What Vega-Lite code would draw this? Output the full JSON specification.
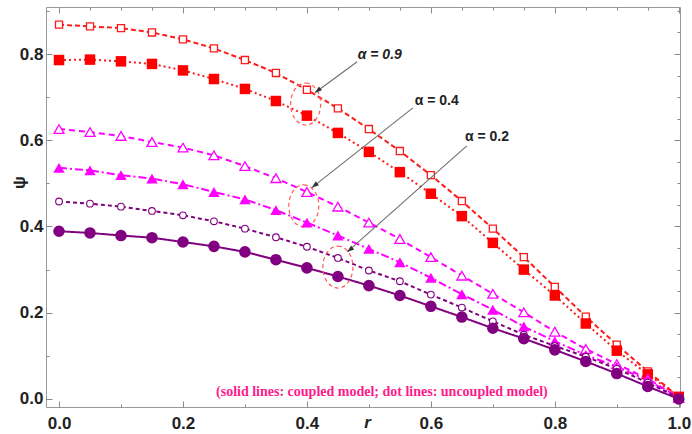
{
  "$schema": "https://vega.github.io/schema/vega-lite/v6.json",
  "width": 634,
  "height": 400,
  "autosize": "none",
  "padding": {"left": 46, "top": 7, "right": 12, "bottom": 27},
  "background": "white",
  "config": {"view": {"stroke": "#9a9a9a", "strokeWidth": 1}, "font": "Liberation Sans"},
  "datasets": {
    "curves": [
      {"r":0,"psi":0.868,"s":"a9u"},{"r":0.05,"psi":0.864,"s":"a9u"},{"r":0.1,"psi":0.860,"s":"a9u"},{"r":0.15,"psi":0.850,"s":"a9u"},{"r":0.2,"psi":0.834,"s":"a9u"},{"r":0.25,"psi":0.813,"s":"a9u"},{"r":0.3,"psi":0.786,"s":"a9u"},{"r":0.35,"psi":0.756,"s":"a9u"},{"r":0.4,"psi":0.717,"s":"a9u"},{"r":0.45,"psi":0.674,"s":"a9u"},{"r":0.5,"psi":0.626,"s":"a9u"},{"r":0.55,"psi":0.575,"s":"a9u"},{"r":0.6,"psi":0.519,"s":"a9u"},{"r":0.65,"psi":0.459,"s":"a9u"},{"r":0.7,"psi":0.395,"s":"a9u"},{"r":0.75,"psi":0.329,"s":"a9u"},{"r":0.8,"psi":0.260,"s":"a9u"},{"r":0.85,"psi":0.191,"s":"a9u"},{"r":0.9,"psi":0.126,"s":"a9u"},{"r":0.95,"psi":0.064,"s":"a9u"},{"r":1.0,"psi":0.005,"s":"a9u"},
      {"r":0,"psi":0.786,"s":"a9c"},{"r":0.05,"psi":0.787,"s":"a9c"},{"r":0.1,"psi":0.783,"s":"a9c"},{"r":0.15,"psi":0.777,"s":"a9c"},{"r":0.2,"psi":0.762,"s":"a9c"},{"r":0.25,"psi":0.742,"s":"a9c"},{"r":0.3,"psi":0.719,"s":"a9c"},{"r":0.35,"psi":0.691,"s":"a9c"},{"r":0.4,"psi":0.657,"s":"a9c"},{"r":0.45,"psi":0.617,"s":"a9c"},{"r":0.5,"psi":0.573,"s":"a9c"},{"r":0.55,"psi":0.526,"s":"a9c"},{"r":0.6,"psi":0.476,"s":"a9c"},{"r":0.65,"psi":0.424,"s":"a9c"},{"r":0.7,"psi":0.362,"s":"a9c"},{"r":0.75,"psi":0.300,"s":"a9c"},{"r":0.8,"psi":0.240,"s":"a9c"},{"r":0.85,"psi":0.175,"s":"a9c"},{"r":0.9,"psi":0.112,"s":"a9c"},{"r":0.95,"psi":0.057,"s":"a9c"},{"r":1.0,"psi":0.005,"s":"a9c"},
      {"r":0,"psi":0.626,"s":"a4u"},{"r":0.05,"psi":0.619,"s":"a4u"},{"r":0.1,"psi":0.610,"s":"a4u"},{"r":0.15,"psi":0.596,"s":"a4u"},{"r":0.2,"psi":0.583,"s":"a4u"},{"r":0.25,"psi":0.565,"s":"a4u"},{"r":0.3,"psi":0.540,"s":"a4u"},{"r":0.35,"psi":0.512,"s":"a4u"},{"r":0.4,"psi":0.480,"s":"a4u"},{"r":0.45,"psi":0.446,"s":"a4u"},{"r":0.5,"psi":0.409,"s":"a4u"},{"r":0.55,"psi":0.371,"s":"a4u"},{"r":0.6,"psi":0.329,"s":"a4u"},{"r":0.65,"psi":0.286,"s":"a4u"},{"r":0.7,"psi":0.244,"s":"a4u"},{"r":0.75,"psi":0.201,"s":"a4u"},{"r":0.8,"psi":0.156,"s":"a4u"},{"r":0.85,"psi":0.116,"s":"a4u"},{"r":0.9,"psi":0.081,"s":"a4u"},{"r":0.95,"psi":0.047,"s":"a4u"},{"r":1.0,"psi":0.003,"s":"a4u"},
      {"r":0,"psi":0.536,"s":"a4c"},{"r":0.05,"psi":0.530,"s":"a4c"},{"r":0.1,"psi":0.519,"s":"a4c"},{"r":0.15,"psi":0.511,"s":"a4c"},{"r":0.2,"psi":0.498,"s":"a4c"},{"r":0.25,"psi":0.480,"s":"a4c"},{"r":0.3,"psi":0.463,"s":"a4c"},{"r":0.35,"psi":0.438,"s":"a4c"},{"r":0.4,"psi":0.409,"s":"a4c"},{"r":0.45,"psi":0.379,"s":"a4c"},{"r":0.5,"psi":0.348,"s":"a4c"},{"r":0.55,"psi":0.317,"s":"a4c"},{"r":0.6,"psi":0.281,"s":"a4c"},{"r":0.65,"psi":0.243,"s":"a4c"},{"r":0.7,"psi":0.207,"s":"a4c"},{"r":0.75,"psi":0.168,"s":"a4c"},{"r":0.8,"psi":0.134,"s":"a4c"},{"r":0.85,"psi":0.102,"s":"a4c"},{"r":0.9,"psi":0.075,"s":"a4c"},{"r":0.95,"psi":0.043,"s":"a4c"},{"r":1.0,"psi":0.003,"s":"a4c"},
      {"r":0,"psi":0.458,"s":"a2u"},{"r":0.05,"psi":0.453,"s":"a2u"},{"r":0.1,"psi":0.446,"s":"a2u"},{"r":0.15,"psi":0.436,"s":"a2u"},{"r":0.2,"psi":0.426,"s":"a2u"},{"r":0.25,"psi":0.412,"s":"a2u"},{"r":0.3,"psi":0.395,"s":"a2u"},{"r":0.35,"psi":0.375,"s":"a2u"},{"r":0.4,"psi":0.353,"s":"a2u"},{"r":0.45,"psi":0.327,"s":"a2u"},{"r":0.5,"psi":0.298,"s":"a2u"},{"r":0.55,"psi":0.273,"s":"a2u"},{"r":0.6,"psi":0.242,"s":"a2u"},{"r":0.65,"psi":0.212,"s":"a2u"},{"r":0.7,"psi":0.180,"s":"a2u"},{"r":0.75,"psi":0.149,"s":"a2u"},{"r":0.8,"psi":0.123,"s":"a2u"},{"r":0.85,"psi":0.098,"s":"a2u"},{"r":0.9,"psi":0.070,"s":"a2u"},{"r":0.95,"psi":0.038,"s":"a2u"},{"r":1.0,"psi":0.002,"s":"a2u"},
      {"r":0,"psi":0.389,"s":"a2c"},{"r":0.05,"psi":0.385,"s":"a2c"},{"r":0.1,"psi":0.379,"s":"a2c"},{"r":0.15,"psi":0.374,"s":"a2c"},{"r":0.2,"psi":0.364,"s":"a2c"},{"r":0.25,"psi":0.354,"s":"a2c"},{"r":0.3,"psi":0.341,"s":"a2c"},{"r":0.35,"psi":0.323,"s":"a2c"},{"r":0.4,"psi":0.304,"s":"a2c"},{"r":0.45,"psi":0.284,"s":"a2c"},{"r":0.5,"psi":0.263,"s":"a2c"},{"r":0.55,"psi":0.240,"s":"a2c"},{"r":0.6,"psi":0.215,"s":"a2c"},{"r":0.65,"psi":0.190,"s":"a2c"},{"r":0.7,"psi":0.164,"s":"a2c"},{"r":0.75,"psi":0.140,"s":"a2c"},{"r":0.8,"psi":0.114,"s":"a2c"},{"r":0.85,"psi":0.087,"s":"a2c"},{"r":0.9,"psi":0.059,"s":"a2c"},{"r":0.95,"psi":0.029,"s":"a2c"},{"r":1.0,"psi":0.0,"s":"a2c"}
    ],
    "ellipses": [
      {"r":0.398,"psi":0.684},{"r":0.395,"psi":0.448},{"r":0.45,"psi":0.306}
    ],
    "arrows": [
      {"r":0.481,"psi":0.782,"r2":0.413,"psi2":0.710},
      {"r":0.571,"psi":0.675,"r2":0.408,"psi2":0.490},
      {"r":0.658,"psi":0.587,"r2":0.465,"psi2":0.341}
    ],
    "labels": [
      {"r":0.482,"psi":0.798,"label":"α = 0.9","it":true},
      {"r":0.574,"psi":0.691,"label":"α = 0.4","it":false},
      {"r":0.655,"psi":0.608,"label":"α = 0.2","it":false}
    ],
    "note": [
      {"r":0.521,"psi":0.016,"label":"(solid lines: coupled model; dot lines: uncoupled model)"}
    ]
  },
  "layer": [
    {
      "layer": [
        {
          "data": {"name": "curves"},
          "mark": {"type": "line", "strokeWidth": 2},
          "encoding": {
            "x": {"field": "r", "type": "quantitative",
              "scale": {"domain": [-0.021, 1.002], "nice": false, "zero": false},
              "axis": {
                "values": [0,0.05,0.1,0.15,0.2,0.25,0.3,0.35,0.4,0.45,0.5,0.55,0.6,0.65,0.7,0.75,0.8,0.85,0.9,0.95,1.0],
                "labelExpr": "abs(datum.value*5 - round(datum.value*5)) < 0.001 ? format(datum.value, '.1f') : ''",
                "tickSize": {"condition": {"test": "abs(datum.value*5 - round(datum.value*5)) < 0.001", "value": -6}, "value": -3},
                "labelPadding": 14,
                "domain": false, "grid": false,
                "tickColor": "#8a8a8a",
                "labelFont": "Liberation Sans", "labelFontSize": 17, "labelFontWeight": "bold", "labelColor": "#222222",
                "labelOverlap": false, "labelFlush": false,
                "title": "r", "titleFont": "Liberation Sans", "titleFontSize": 17, "titleFontStyle": "italic", "titleFontWeight": "bold", "titleColor": "#222222",
                "titleX": 321, "titleY": 20, "titleBaseline": "alphabetic", "titleAlign": "center"
              }
            },
            "y": {"field": "psi", "type": "quantitative",
              "scale": {"domain": [-0.0186, 0.909], "nice": false, "zero": false},
              "axis": {
                "values": [0,0.05,0.1,0.15,0.2,0.25,0.3,0.35,0.4,0.45,0.5,0.55,0.6,0.65,0.7,0.75,0.8,0.85,0.9],
                "labelExpr": "abs(datum.value*5 - round(datum.value*5)) < 0.001 ? format(datum.value, '.1f') : ''",
                "tickSize": {"condition": {"test": "abs(datum.value*5 - round(datum.value*5)) < 0.001", "value": -6}, "value": -3},
                "labelPadding": 9,
                "domain": false, "grid": false,
                "tickColor": "#8a8a8a",
                "labelFont": "Liberation Sans", "labelFontSize": 17, "labelFontWeight": "bold", "labelColor": "#222222",
                "labelOverlap": false, "labelFlush": false,
                "title": "ψ", "titleFont": "Liberation Sans", "titleFontSize": 17, "titleFontWeight": "bold", "titleColor": "#222222",
                "titleAngle": 270, "titleX": -22, "titleY": 175, "titleBaseline": "alphabetic", "titleAlign": "center"
              }
            },
            "detail": {"field": "s"},
            "stroke": {"field": "s", "type": "nominal", "legend": null,
              "scale": {"domain": ["a9u","a9c","a4u","a4c","a2u","a2c"], "range": ["#ff1a1a","#ff1a1a","#ff00ff","#ff00ff","#800080","#800080"]}},
            "strokeDash": {"field": "s", "type": "nominal", "legend": null,
              "scale": {"domain": ["a9u","a9c","a4u","a4c","a2u","a2c"], "range": [[5,3],[2,3],[6,4],[8,3,2,3],[4,3],[1,0]]}}
          }
        },
        {
          "data": {"name": "ellipses"},
          "mark": {"type": "point", "shape": "M0,-1.4C0.552,-1.4 1,-0.773 1,0C1,0.773 0.552,1.4 0,1.4C-0.552,1.4 -1,0.773 -1,0C-1,-0.773 -0.552,-1.4 0,-1.4Z", "size": 900, "filled": false, "stroke": "#ff5a5a", "strokeWidth": 1.2, "strokeDash": [4, 3], "opacity": 1},
          "encoding": {"x": {"field": "r", "type": "quantitative"}, "y": {"field": "psi", "type": "quantitative"}}
        },
        {
          "data": {"name": "curves"},
          "transform": [{"filter": "datum.s == 'a9u'"}],
          "mark": {"type": "point", "shape": "square", "size": 50, "filled": true, "fill": "white", "stroke": "#ff1a1a", "strokeWidth": 1.3, "opacity": 1},
          "encoding": {"x": {"field": "r", "type": "quantitative"}, "y": {"field": "psi", "type": "quantitative"}}
        },
        {
          "data": {"name": "curves"},
          "transform": [{"filter": "datum.s == 'a9c'"}],
          "mark": {"type": "point", "shape": "square", "size": 110, "filled": true, "fill": "#ff0000", "opacity": 1},
          "encoding": {"x": {"field": "r", "type": "quantitative"}, "y": {"field": "psi", "type": "quantitative"}}
        },
        {
          "data": {"name": "curves"},
          "transform": [{"filter": "datum.s == 'a4u'"}],
          "mark": {"type": "point", "shape": "triangle-up", "size": 100, "filled": true, "fill": "white", "stroke": "#ff00ff", "strokeWidth": 1.3, "opacity": 1},
          "encoding": {"x": {"field": "r", "type": "quantitative"}, "y": {"field": "psi", "type": "quantitative"}}
        },
        {
          "data": {"name": "curves"},
          "transform": [{"filter": "datum.s == 'a4c'"}],
          "mark": {"type": "point", "shape": "triangle-up", "size": 130, "filled": true, "fill": "#ff00ff", "opacity": 1},
          "encoding": {"x": {"field": "r", "type": "quantitative"}, "y": {"field": "psi", "type": "quantitative"}}
        },
        {
          "data": {"name": "curves"},
          "transform": [{"filter": "datum.s == 'a2u'"}],
          "mark": {"type": "point", "shape": "circle", "size": 45, "filled": true, "fill": "white", "stroke": "#800080", "strokeWidth": 1.1, "opacity": 1},
          "encoding": {"x": {"field": "r", "type": "quantitative"}, "y": {"field": "psi", "type": "quantitative"}}
        },
        {
          "data": {"name": "curves"},
          "transform": [{"filter": "datum.s == 'a2c'"}],
          "mark": {"type": "point", "shape": "circle", "size": 135, "filled": true, "fill": "#800080", "opacity": 1},
          "encoding": {"x": {"field": "r", "type": "quantitative"}, "y": {"field": "psi", "type": "quantitative"}}
        },
        {
          "data": {"name": "arrows"},
          "mark": {"type": "rule", "stroke": "#6e6e6e", "strokeWidth": 1.1},
          "encoding": {"x": {"field": "r", "type": "quantitative"}, "y": {"field": "psi", "type": "quantitative"}, "x2": {"field": "r2"}, "y2": {"field": "psi2"}}
        },
        {
          "data": {"name": "arrows"},
          "mark": {"type": "point", "shape": "M0,0L-0.7,2L0.7,2Z", "size": 49, "filled": true, "fill": "#333333", "angle": 231, "opacity": 1},
          "encoding": {"x": {"field": "r2", "type": "quantitative"}, "y": {"field": "psi2", "type": "quantitative"}}
        },
        {
          "data": {"name": "labels"},
          "transform": [{"filter": "datum.it"}],
          "mark": {"type": "text", "align": "left", "baseline": "middle", "font": "Liberation Sans", "fontSize": 14, "fontWeight": "bold", "fontStyle": "italic", "color": "#222222"},
          "encoding": {"x": {"field": "r", "type": "quantitative"}, "y": {"field": "psi", "type": "quantitative"}, "text": {"field": "label"}}
        },
        {
          "data": {"name": "labels"},
          "transform": [{"filter": "!datum.it"}],
          "mark": {"type": "text", "align": "left", "baseline": "middle", "font": "Liberation Sans", "fontSize": 14, "fontWeight": "bold", "color": "#222222"},
          "encoding": {"x": {"field": "r", "type": "quantitative"}, "y": {"field": "psi", "type": "quantitative"}, "text": {"field": "label"}}
        },
        {
          "data": {"name": "note"},
          "mark": {"type": "text", "align": "center", "baseline": "middle", "font": "Liberation Serif", "fontSize": 14, "fontWeight": "bold", "color": "#ff1a8c"},
          "encoding": {"x": {"field": "r", "type": "quantitative"}, "y": {"field": "psi", "type": "quantitative"}, "text": {"field": "label"}}
        }
      ]
    },
    {
      "data": {"name": "ellipses"},
      "mark": {"type": "point", "opacity": 0},
      "encoding": {
        "x": {"field": "r", "type": "quantitative",
          "scale": {"domain": [-0.021, 1.002], "nice": false, "zero": false},
          "axis": {
            "orient": "top",
            "values": [0,0.05,0.1,0.15,0.2,0.25,0.3,0.35,0.4,0.45,0.5,0.55,0.6,0.65,0.7,0.75,0.8,0.85,0.9,0.95,1.0],
            "labels": false, "domain": false, "grid": false, "title": null,
            "tickColor": "#8a8a8a",
            "tickSize": {"condition": {"test": "abs(datum.value*5 - round(datum.value*5)) < 0.001", "value": -6}, "value": -3}
          }
        },
        "y": {"field": "psi", "type": "quantitative",
          "scale": {"domain": [-0.0186, 0.909], "nice": false, "zero": false},
          "axis": {
            "orient": "right",
            "values": [0,0.05,0.1,0.15,0.2,0.25,0.3,0.35,0.4,0.45,0.5,0.55,0.6,0.65,0.7,0.75,0.8,0.85,0.9],
            "labels": false, "domain": false, "grid": false, "title": null,
            "tickColor": "#8a8a8a",
            "tickSize": {"condition": {"test": "abs(datum.value*5 - round(datum.value*5)) < 0.001", "value": -6}, "value": -3}
          }
        }
      }
    }
  ],
  "resolve": {"axis": {"x": "independent", "y": "independent"}}
}
